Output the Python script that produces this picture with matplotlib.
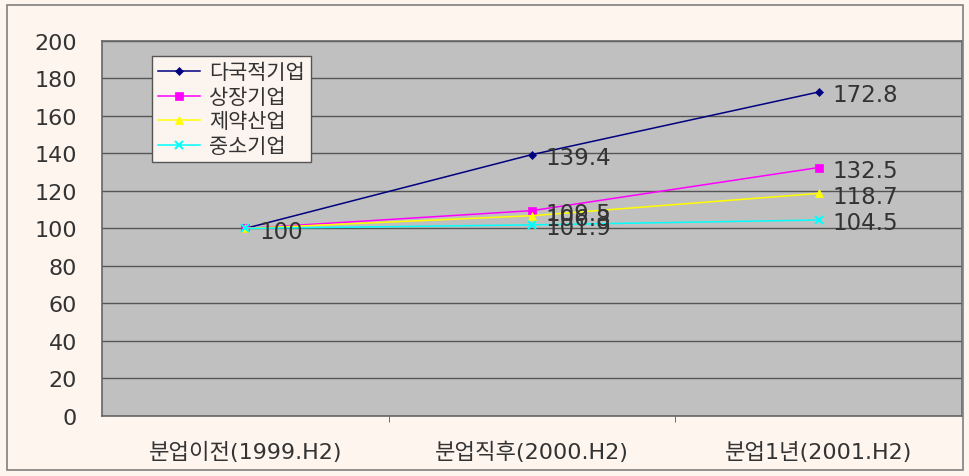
import matplotlib
matplotlib.use("Agg")
import matplotlib.pyplot as plt
from matplotlib.patches import Rectangle

plt.rcParams['font.family'] = ['DejaVu Sans', 'Noto Sans CJK KR']

categories = ["분업이전(1999.H2)", "분업직후(2000.H2)", "분업1년(2001.H2)"]
series_names = ["다국적기업", "상장기업", "제약산업", "중소기업"]
multinational = [100, 139.4, 172.8]
listed = [100, 109.5, 132.5]
pharma = [100, 106.8, 118.7]
sme = [100, 101.9, 104.5]
yticks = [0, 20, 40, 60, 80, 100, 120, 140, 160, 180, 200]

series = [multinational, listed, pharma, sme]
colors = ["#000080", "#FF00FF", "#FFFF00", "#00FFFF"]
markers = ["D", "s", "^", "x"]
msizes = [4.5, 6, 6, 6]

fig = plt.figure(figsize=(9.7, 4.77), dpi=100)
fig.patch.set_facecolor("#FDF5EE")
fig.patches.append(Rectangle((0.007, 0.012), 0.986, 0.975, transform=fig.transFigure,
                             fill=False, edgecolor="#808080", linewidth=1.2))

ax = fig.add_axes([0.105, 0.126, 0.887, 0.786])
ax.set_facecolor("#C0C0C0")
x = list(range(len(categories)))

for vals, name, c, m, ms in zip(series, series_names, colors, markers, msizes):
    ax.plot(x, vals, color=c, marker=m, markersize=ms, linewidth=1.1,
            markeredgewidth=1.5 if m == "x" else 0.5, markeredgecolor=c, label=name, zorder=3)

# data labels
for vals in series:
    for i, v in enumerate(vals):
        if i == 0 and vals is not sme:
            continue
        ax.annotate(f"{v:g}", (i, v), xytext=(10, -2), textcoords="offset points",
                    ha="left", va="center", fontsize=16.5, color="#333333", zorder=4)

ax.set_xlim(-0.5, 2.5)
ax.set_ylim(0, 200)
ax.set_yticks(yticks)
ax.yaxis.grid(True, color="#555555", linewidth=1.0)
ax.set_axisbelow(True)
ax.set_xticks(x)
ax.set_xticklabels(categories, fontsize=16, color="#333333")
ax.set_xticks([0.5, 1.5], minor=True)
ax.tick_params(axis="x", which="major", length=0, pad=18)
ax.tick_params(axis="x", which="minor", length=4, color="#555555")
ax.tick_params(axis="y", length=0, labelsize=16, labelcolor="#333333", pad=18)
for s in ax.spines.values():
    s.set_color("#666666")
    s.set_linewidth(1.2)

leg = ax.legend(loc="upper left", bbox_to_anchor=(0.058, 0.96), fontsize=15,
                frameon=True, fancybox=False, framealpha=1, facecolor="#FCF4EE",
                edgecolor="#555555", handlelength=2.0, borderpad=0.3,
                labelspacing=0.22, handletextpad=0.45, borderaxespad=0)
for t in leg.get_texts():
    t.set_color("#333333")

fig.savefig("out.png", dpi=100, facecolor=fig.get_facecolor())
